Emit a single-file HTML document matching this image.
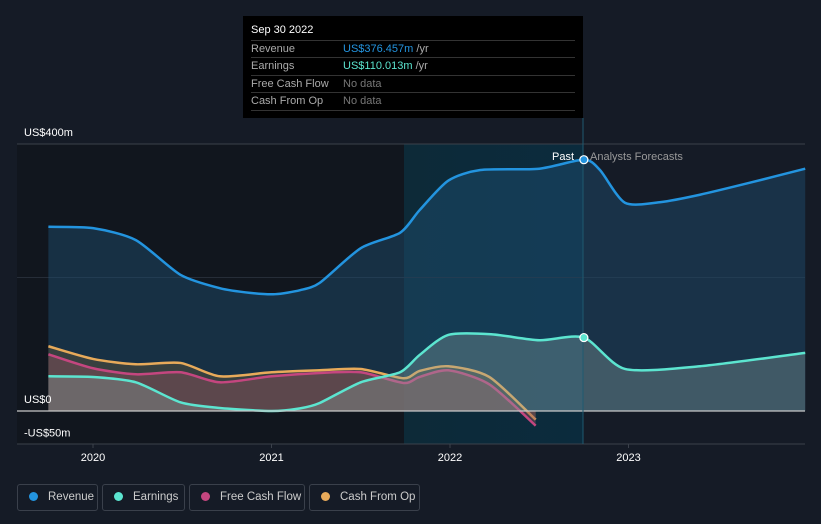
<!DOCTYPE html>
<html><head><meta charset="utf-8">
<style>
html,body{margin:0;background:#151b26;width:821px;height:524px;overflow:hidden;font-family:"Liberation Sans",sans-serif;}
svg{position:absolute;left:0;top:0}
.tip{position:absolute;left:243px;top:16px;width:340px;height:102px;background:#000;color:#fff;font-size:11px}
.tip .row{position:absolute;left:8px;width:324px;border-top:1px solid #333;height:17px;line-height:17px}
.tip .k{color:#aaa;position:absolute;left:0}
.tip .v{position:absolute;left:92px}
.leg{position:absolute;top:484px;height:27px;border:1px solid #3a404b;border-radius:3px;color:#ccc;font-size:11.5px;line-height:25px;box-sizing:border-box;white-space:nowrap;overflow:hidden}
.leg i{display:inline-block;width:9px;height:9px;border-radius:50%;margin:0 10px 0 11px;vertical-align:-1px}
</style></head><body>
<svg id="chart" width="821" height="524"></svg>
<div class="tip">
<div style="position:absolute;left:8px;top:8px;font-size:11px">Sep 30 2022</div>
<div class="row" style="top:24px"><span class="k">Revenue</span><span class="v"><span style="color:#2394df">US$376.457m</span> <span style="color:#aaa">/yr</span></span></div>
<div class="row" style="top:41px"><span class="k">Earnings</span><span class="v"><span style="color:#5ce5d0">US$110.013m</span> <span style="color:#aaa">/yr</span></span></div>
<div class="row" style="top:59px"><span class="k">Free Cash Flow</span><span class="v" style="color:#777">No data</span></div>
<div class="row" style="top:76px;border-bottom:1px solid #333"><span class="k">Cash From Op</span><span class="v" style="color:#777">No data</span></div>
</div>
<div class="leg" style="left:17px;width:81px"><i style="background:#2394df"></i>Revenue</div>
<div class="leg" style="left:102px;width:83px"><i style="background:#5ce5d0"></i>Earnings</div>
<div class="leg" style="left:189px;width:116px"><i style="background:#c4467f"></i>Free Cash Flow</div>
<div class="leg" style="left:309px;width:111px"><i style="background:#e8aa5a"></i>Cash From Op</div>
<script>
const revT=[2019.75,2020.0,2020.24,2020.49,2020.71,2020.88,2021.02,2021.16,2021.27,2021.5,2021.72,2021.83,2021.99,2022.17,2022.5,2022.75,2022.84,2022.98,2023.18,2023.4,2023.68,2023.99];
const revV=[276,274,256,204,184,177,175,181,192,244,267,301,345,361,363,376.5,361,312,313,324,342,363];
const earnT=[2019.75,2020.0,2020.24,2020.49,2020.71,2021.0,2021.16,2021.27,2021.5,2021.72,2021.83,2021.99,2022.23,2022.5,2022.75,2022.98,2023.4,2023.99];
const earnV=[52,51,43,13,4.5,0,4,12,43,58,84,114,115,106,110,63,67,87];
const fcfT=[2019.75,2020.0,2020.24,2020.49,2020.71,2021.0,2021.27,2021.5,2021.74,2021.83,2021.99,2022.22,2022.48];
const fcfV=[85,64,55,58,43,52,57,58,42,51,61,40,-22];
const cfoT=[2019.75,2020.0,2020.24,2020.49,2020.71,2021.0,2021.27,2021.5,2021.74,2021.83,2021.99,2022.22,2022.48];
const cfoV=[97,78,70,72,52,58,61,63,49,60,67,51,-13];
const yTicks=[400,0,-50];
const yLabels=["US$400m","US$0","-US$50m"];
const xTicks=[2020,2021,2022,2023];
const X=t=>93+(t-2020)*178.5;
const Y=v=>411-v*0.6675;
const svg=document.getElementById('chart');
const NS='http://www.w3.org/2000/svg';
function mk(tag,attrs,parent){const e=document.createElementNS(NS,tag);for(const k in attrs)e.setAttribute(k,attrs[k]);(parent||svg).appendChild(e);return e;}
let defs=mk('defs',{});
let g=mk('linearGradient',{id:'pastg',x1:0,x2:1,y1:0,y2:0},defs);
mk('stop',{offset:0,'stop-color':'#0d2a38','stop-opacity':1},g);
mk('stop',{offset:1,'stop-color':'#0b2b3d','stop-opacity':1},g);
let bg=mk('rect',{x:17,y:144,width:387,height:300,fill:'#11161e'});


let pr=mk('rect',{x:404,y:144,width:179,height:300,fill:'url(#pastg)'});


[400,200].forEach(v=>{let l=mk('line',{x1:17,x2:805,y1:Y(v),y2:Y(v),stroke:v==400?'#3b414b':'#262d38','stroke-width':1});

});
function path(T,V){const p=T.map((t,i)=>[X(t),Y(V[i])]);let d='M'+p[0][0]+','+p[0][1];
for(let i=0;i<p.length-1;i++){const p0=p[Math.max(0,i-1)],p1=p[i],p2=p[i+1],p3=p[Math.min(p.length-1,i+2)];
const c1=[p1[0]+(p2[0]-p0[0])/8,p1[1]+(p2[1]-p0[1])/8],c2=[p2[0]-(p3[0]-p1[0])/8,p2[1]-(p3[1]-p1[1])/8];
d+=`C${c1[0]},${c1[1]} ${c2[0]},${c2[1]} ${p2[0]},${p2[1]}`;}return {d,p};}
function series(T,V,color,fill,fop,name){const {d,p}=path(T,V);
let a=mk('path',{d:d+`L${p[p.length-1][0]},${Y(0)}L${p[0][0]},${Y(0)}Z`,fill:fill,'fill-opacity':fop});


let l=mk('path',{d,fill:'none',stroke:color,'stroke-width':2.5});

}
series(revT,revV,'#2394df','#1f4f73',0.45,'revenue');
series(cfoT,cfoV,'#e8aa5a','#6b5a3a',0.4,'cash-from-op');
series(fcfT,fcfV,'#c4467f','#8a4f5d',0.45,'free-cash-flow');
series(earnT,earnV,'#5ce5d0','#8aa3a0',0.35,'earnings');
let z=mk('line',{x1:17,x2:805,y1:Y(0),y2:Y(0),stroke:'#c8c8c8','stroke-width':1.2});


let ax=mk('line',{x1:17,x2:805,y1:444,y2:444,stroke:'#3b414b'});


let vl=mk('line',{x1:583,x2:583,y1:118,y2:444,stroke:'#1e5a70','stroke-width':1});


yTicks.forEach((v,i)=>{let t=mk('text',{x:24,y:Y(v)-8,fill:'#fff','font-size':11});t.textContent=yLabels[i];

});
xTicks.forEach(v=>{let t=mk('text',{x:X(v),y:461,fill:'#fff','font-size':11,'text-anchor':'middle'});t.textContent=v;


let k=mk('line',{x1:X(v),x2:X(v),y1:444,y2:448,stroke:'#3b414b'});

});
let pt=mk('text',{x:574,y:160,fill:'#fff','font-size':11,'text-anchor':'end'});pt.textContent='Past';


let ft=mk('text',{x:590,y:160,fill:'#999','font-size':11});ft.textContent='Analysts Forecasts';


let d1=mk('circle',{cx:X(2022.75),cy:Y(376.5),r:4,fill:'#2394df',stroke:'#fff','stroke-width':1.2});


let d2=mk('circle',{cx:X(2022.75),cy:Y(110),r:4,fill:'#5ce5d0',stroke:'#fff','stroke-width':1.2});


</script>
</body></html>
